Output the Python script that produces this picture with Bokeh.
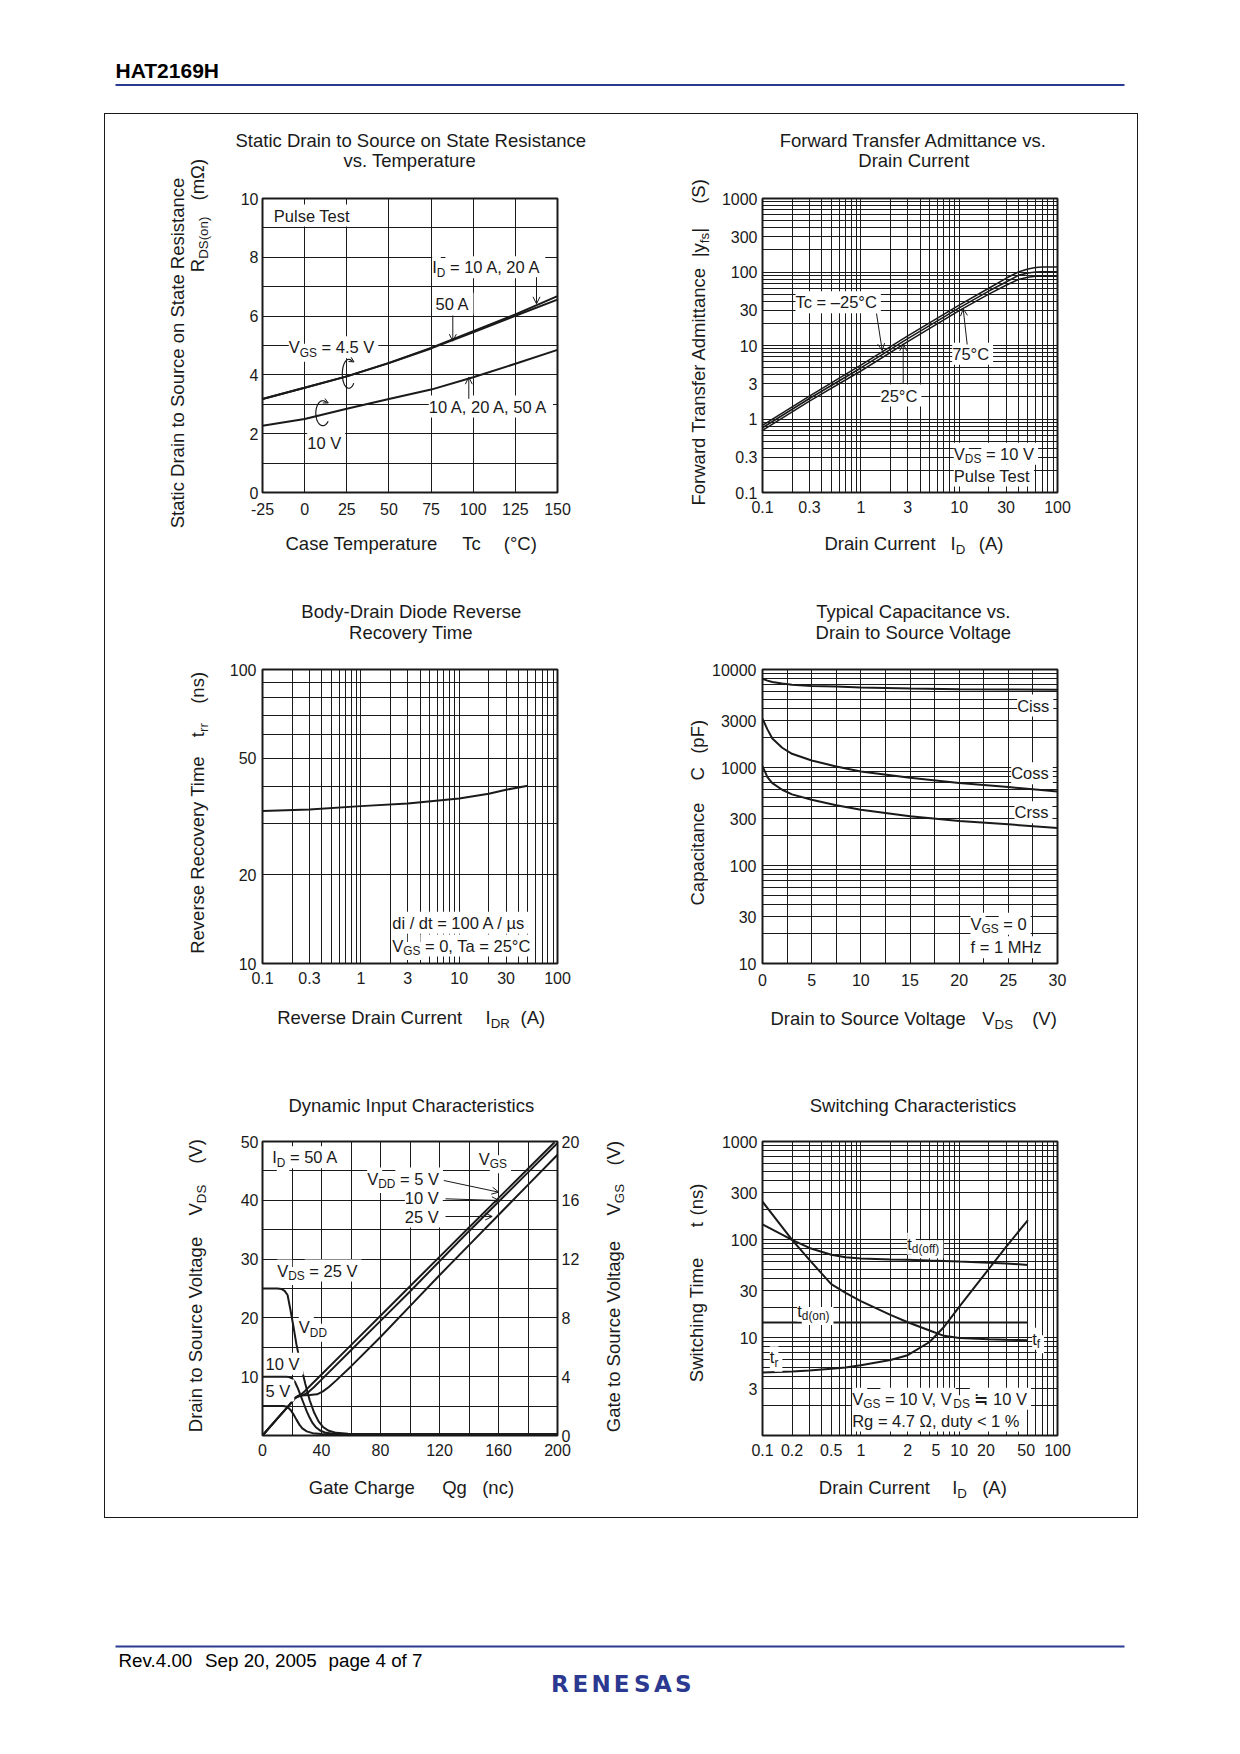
import math
import numpy as np
from bokeh.plotting import figure
from bokeh.models import Range1d, LinearAxis, FixedTicker, Label, Arrow, OpenHead, Spacer
from bokeh.layouts import column, row
from bokeh.embed import file_html
from bokeh.resources import INLINE

FONT = "Liberation Sans"
INK = "#1a1a1a"
BLUE = "#2b3990"
NBSP = "\u00a0"

# ---------------- data: RDS(on) vs temperature ----------------
tc_temp = [-25, 0, 25, 50, 75, 100, 125, 150]
rds_vgs45_id10_20 = [3.18, 3.56, 3.95, 4.41, 4.92, 5.49, 6.06, 6.68]
rds_vgs45_id50 = [3.18, 3.56, 3.95, 4.40, 4.90, 5.45, 6.01, 6.56]
rds_vgs10 = [2.27, 2.50, 2.85, 3.18, 3.50, 3.92, 4.38, 4.85]
tc_ticks = [-25, 0, 25, 50, 75, 100, 125, 150]
rds_ticks = [0, 2, 4, 6, 8, 10]

# ---------------- data: |yfs| vs ID ----------------
yfs_id = [0.1, 0.3, 1, 3, 10, 20, 30, 40, 50, 60, 70, 100]
yfs_tc_m25 = [0.82, 2.05, 5.4, 13.5, 35.4, 60, 82, 100, 110, 115, 117, 117]
yfs_tc_25 = [0.76, 1.9, 4.95, 12.4, 32.5, 55, 73, 90, 97, 100, 101, 101]
yfs_tc_75 = [0.70, 1.75, 4.5, 11.3, 29.8, 50, 66, 79, 85, 87.5, 88, 88]
yfs_x_ticks = [0.1, 0.3, 1, 3, 10, 30, 100]
yfs_y_ticks = [0.1, 0.3, 1, 3, 10, 30, 100, 300, 1000]

# ---------------- data: trr vs IDR ----------------
trr_idr = [0.1, 0.3, 1, 3, 10, 20, 30, 50]
trr_ns = [33.0, 33.4, 34.3, 35.0, 36.4, 37.8, 39.0, 40.2]
trr_x_ticks = [0.1, 0.3, 1, 3, 10, 30, 100]
trr_y_ticks = [10, 20, 50, 100]

# ---------------- data: capacitance vs VDS ----------------
cap_vds = [0, 0.5, 1, 2, 3, 5, 7.5, 10, 15, 20, 25, 30]
cap_ciss = [8050, 7700, 7450, 7200, 7000, 6800, 6700, 6550, 6400, 6300, 6250, 6200]
cap_coss = [3150, 2450, 1980, 1590, 1380, 1180, 1025, 912, 787, 694, 631, 570]
cap_crss = [1035, 798, 693, 593, 532, 469, 411, 371, 318, 285, 263, 242]
cap_x_ticks = [0, 5, 10, 15, 20, 25, 30]
cap_y_ticks = [10, 30, 100, 300, 1000, 3000, 10000]

# ---------------- data: dynamic input ----------------
qg_vds25 = [0, 10, 13, 15, 17, 19, 21, 23, 26, 29, 32, 35, 38, 41, 45, 50, 58, 70, 100, 200]
vds_vdd25 = [25, 25, 24.9, 24.6, 23.9, 21.3, 18.5, 15.5, 11.9, 8.8, 6.0, 3.9, 2.4, 1.45, 0.8, 0.45, 0.3, 0.22, 0.2, 0.2]
qg_vds10 = [0, 10, 16, 18, 20, 22, 24, 26, 28, 30, 32, 34, 36, 39, 43, 48, 55, 70, 100, 200]
vds_vdd10 = [10, 10, 10, 9.95, 9.7, 9.1, 8.0, 6.7, 5.4, 4.1, 3.0, 2.1, 1.45, 0.85, 0.45, 0.28, 0.22, 0.2, 0.2, 0.2]
qg_vds5 = [0, 10, 14, 16, 17, 19, 21, 23, 25, 27, 30, 34, 40, 50, 100, 200]
vds_vdd5 = [5, 5, 5, 4.95, 4.85, 4.35, 3.6, 2.7, 1.85, 1.2, 0.7, 0.4, 0.25, 0.2, 0.2, 0.2]
qg_vgs5 = [0, 10, 18, 22, 24, 26, 29, 34, 40, 60, 80, 100, 120, 140, 160, 180, 198]
vgs_vdd5 = [0, 1.15, 2.05, 2.55, 2.7, 2.78, 3.05, 3.55, 4.15, 6.15, 8.15, 10.15, 12.15, 14.15, 16.15, 18.15, 19.95]
qg_vgs10 = [0, 10, 18, 22, 25, 28, 31, 35, 40, 60, 80, 100, 120, 140, 160, 180, 200]
vgs_vdd10 = [0, 1.15, 2.05, 2.55, 2.72, 2.76, 2.95, 3.3, 3.8, 5.8, 7.8, 9.8, 11.85, 13.9, 15.9, 17.9, 19.9]
qg_vgs25 = [0, 10, 18, 22, 26, 32, 37, 41, 45, 50, 60, 80, 100, 120, 140, 160, 180, 200]
vgs_vdd25 = [0, 1.15, 2.05, 2.55, 2.72, 2.75, 2.8, 3.0, 3.3, 3.75, 4.7, 6.7, 8.8, 10.9, 12.95, 15.0, 17.05, 19.1]
qg_ticks = [0, 40, 80, 120, 160, 200]
vds_ticks = [10, 20, 30, 40, 50]
vgs_ticks = [0, 4, 8, 12, 16, 20]

# ---------------- data: switching ----------------
sw_id = [0.1, 0.2, 0.3, 0.5, 0.7, 1, 2, 3, 5, 7, 10, 20, 30, 50]
sw_td_off = [143, 99, 82, 70, 66, 64, 62.5, 62, 61, 60.5, 59.5, 58, 57, 55]
sw_tf = [243, 99, 62, 35, 28.5, 23.5, 17, 14.3, 11.8, 10.4, 9.9, 9.6, 9.5, 9.4]
sw_tr = [4.4, 4.5, 4.6, 4.8, 4.95, 5.2, 5.9, 6.6, 9.0, 12.8, 20.5, 50, 84, 158]
sw_td_on_id = [0.1, 50]
sw_td_on = [14.2, 14.2]
sw_x_tick_pos = [0.1, 0.2, 0.5, 1, 3, 5.8, 10, 18.7, 48, 100]
sw_x_tick_labels = ["0.1", "0.2", "0.5", "1", "2", "5", "10", "20", "50", "100"]
sw_y_ticks = [3, 10, 30, 100, 300, 1000]

# ---------------- text metrics (Helvetica / Liberation Sans) ----------------
HW = dict(zip("ABCDEFGHIJKLMNOPQRSTUVWXYZ",
              [667, 667, 722, 722, 667, 611, 778, 722, 278, 500, 667, 556, 833, 722, 778, 667, 778, 722,
               667, 611, 722, 667, 944, 667, 667, 611]))
HW.update(zip("abcdefghijklmnopqrstuvwxyz",
              [556, 556, 500, 556, 556, 278, 556, 556, 222, 222, 500, 222, 833, 556, 556, 556, 556, 333,
               500, 278, 556, 500, 722, 500, 500, 500]))
HW.update({d: 556 for d in "0123456789"})
HW.update({" ": 278, NBSP: 278, "(": 333, ")": 333, ",": 278, "-": 333, ".": 278, "/": 278, "=": 584,
           "<": 584, "|": 260, "%": 889, "°": 400, "Ω": 768, "µ": 556, "–": 556, "≒": 584})


def tw(s, size):
    return sum(HW.get(c, 556) for c in s) * size / 1000.0


def keep_spaces(t):
    """leading/trailing blanks would be collapsed in SVG text: make them non-breaking"""
    core = t.strip(" ")
    lead = len(t) - len(t.lstrip(" "))
    trail = len(t) - len(t.rstrip(" "))
    return NBSP * lead + core + NBSP * trail


# page geometry (bokeh's page template has no body margin)
FR = {1: (262, 198, 295, 294), 2: (762, 198, 295, 294),
      3: (262, 669, 295, 294), 4: (762, 669, 295, 294),
      5: (262, 1141, 295, 294), 6: (762, 1141, 295, 294)}
ROWSP = [(114, 466), (580, 470), (1050, 467)]
BOX_X0, BOX_X1 = 105, 1137
MARG = {1: (40, 34, 12, 32), 2: (48, 34, 12, 32), 3: (40, 34, 12, 32),
        4: (54, 34, 12, 32), 5: (30, 34, 12, 32), 6: (46, 34, 12, 32)}
TEXT_FIGS = []


def segments(X, Y, parts, size, align, rot):
    sub = round(size * 0.72, 2)
    segs = [(keep_spaces(t[0]), True) if isinstance(t, tuple) else (keep_spaces(t), False) for t in parts]
    widths = [tw(t, sub if s else size) for t, s in segs]
    total = sum(widths)
    pos = {"left": 0.0, "center": -total / 2.0, "right": -total}[align]
    out = []
    for (t, s), wd in zip(segs, widths):
        fs = sub if s else size
        off = 0.33 * size if s else 0.0
        if rot:
            px, py = X + off, Y - pos
        else:
            px, py = X + pos, Y + off
        out.append((t, fs, px, py, wd))
        pos += wd
    return out


def lkw(t, fs, rot=False, font=FONT, style="normal", color=INK, talign="left"):
    return dict(text=t, text_font=font, text_font_size=f"{fs}px", text_color=color,
                text_font_style=style, text_align=talign, text_baseline="middle",
                angle=(math.pi / 2 if rot else 0.0))


def inner(p, fr, X, Y, parts, size=16.5, align="left"):
    """text inside a plot frame, on a white box that breaks the grid"""
    left, top, w, h = fr
    bottom = top + h
    segs = segments(X, Y, parts, size, align, False)
    for t, fs, px, py, wd in segs:
        kw = lkw(t, fs)
        kw["text_color"] = "white"
        p.add_layout(Label(x=px - left, y=bottom - py, x_units="screen", y_units="screen",
                           background_fill_color="white", padding=2, **kw))
    for t, fs, px, py, wd in segs:
        p.add_layout(Label(x=px - left, y=bottom - py, x_units="screen", y_units="screen", **lkw(t, fs)))


def outer(X, Y, parts, size=18.5, align="left", rot=False, **kw):
    """text outside the frames, drawn into the page-coordinate text panel that holds it"""
    segs = segments(X, Y, parts, size, align, rot)
    bx0 = by0 = 1e9
    bx1 = by1 = -1e9
    for t, fs, px, py, wd in segs:
        hh = 0.55 * fs
        if rot:
            ex = (px - hh, px + hh, py - wd, py)
        else:
            ex = (px, px + wd, py - hh, py + hh)
        bx0, bx1 = min(bx0, ex[0]), max(bx1, ex[1])
        by0, by1 = min(by0, ex[2]), max(by1, ex[3])
    hosts = [f for f, x0, x1, y0, y1 in TEXT_FIGS if x0 <= bx0 and bx1 <= x1 and y0 <= by0 and by1 <= y1]
    if hosts:
        hosts = hosts[:1]
    else:
        hosts = [f for f, x0, x1, y0, y1 in TEXT_FIGS if x0 < bx1 and bx0 < x1 and y0 < by1 and by0 < y1]
    for f in hosts:
        for t, fs, px, py, wd in segs:
            f.add_layout(Label(x=px, y=py, **lkw(t, fs, rot, **kw)))


def arrow(p, fr, X0, Y0, X1, Y1, size=7):
    left, top, w, h = fr
    bottom = top + h
    p.add_layout(Arrow(end=OpenHead(size=size, line_width=1, line_color=INK),
                       x_start=X0 - left, y_start=bottom - Y0, x_end=X1 - left, y_end=bottom - Y1,
                       start_units="screen", end_units="screen", line_width=1, line_color=INK))


def text_fig(x0, x1, y0, y1):
    f = figure(width=int(x1 - x0), height=int(y1 - y0), x_range=Range1d(x0, x1), y_range=Range1d(y1, y0),
               x_axis_type=None, y_axis_type=None, toolbar_location=None, output_backend="svg",
               min_border=0)
    f.outline_line_color = None
    f.background_fill_color = "white"
    f.border_fill_color = "white"
    TEXT_FIGS.append((f, x0, x1, y0, y1))
    return f


def chart_fig(k, x_range, y_range, xt="linear", yt="linear"):
    FL, FT, FW, FH = FR[k]
    a, b, c, d = MARG[k]
    p = figure(width=a + FW + b, height=c + FH + d, x_range=x_range, y_range=y_range,
               x_axis_type=xt, y_axis_type=yt, toolbar_location=None, output_backend="svg",
               min_border_left=a, min_border_right=b, min_border_top=c, min_border_bottom=d)
    p.outline_line_color = INK
    p.outline_line_width = 2
    p.background_fill_color = "white"
    p.border_fill_color = "white"
    return p


def mid_col(k, p, rowi):
    CT, CH = ROWSP[rowi]
    FL, FT, FW, FH = FR[k]
    a, b, c, d = MARG[k]
    tf = text_fig(FL - a, FL + FW + b, CT, FT - c)
    bf = text_fig(FL - a, FL + FW + b, FT + FH + d, CT + CH)
    # the chart is wrapped in its own row so that the text panels keep their own frames
    return column(tf, row(p), bf)


def build_row(rowi, kl, pl, kr, pr):
    CT, CH = ROWSP[rowi]
    FLl, FLr = FR[kl][0], FR[kr][0]
    al, bl = MARG[kl][0], MARG[kl][1]
    ar, br = MARG[kr][0], MARG[kr][1]
    L = text_fig(BOX_X0, FLl - al, CT, CT + CH)
    G = text_fig(FLl + 295 + bl, FLr - ar, CT, CT + CH)
    R = text_fig(FLr + 295 + br, BOX_X1, CT, CT + CH)
    return row(L, mid_col(kl, pl, rowi), G, mid_col(kr, pr, rowi), R)


def style_axis(ax, ticks, standoff, overrides=None):
    ax.ticker = FixedTicker(ticks=ticks)
    ax.axis_line_color = None
    ax.major_tick_line_color = None
    ax.minor_tick_line_color = None
    ax.major_tick_in = 0
    ax.major_tick_out = 0
    ax.minor_tick_in = 0
    ax.minor_tick_out = 0
    ax.major_label_text_font = FONT
    ax.major_label_text_font_size = "16px"
    ax.major_label_text_color = INK
    ax.major_label_standoff = standoff
    if overrides is not None:
        ax.major_label_overrides = overrides


def log_grid(e0, e1):
    majors = [10.0 ** e for e in range(e0, e1 + 1)]
    minors = [k * 10.0 ** e for e in range(e0, e1) for k in range(2, 10)]
    return FixedTicker(ticks=majors, minor_ticks=minors)


def style_grid(g, ticker, minor=False):
    g.ticker = ticker
    g.grid_line_color = INK
    g.grid_line_width = 1
    g.grid_line_alpha = 1
    if minor:
        g.minor_grid_line_color = INK
        g.minor_grid_line_width = 1
        g.minor_grid_line_alpha = 1


def fmt(ticks):
    return {t: f"{t:g}" for t in ticks}


# ---------------- figures & layout ----------------
x1r, y1r = (-25, 150), (0, 10)
p1 = chart_fig(1, Range1d(*x1r), Range1d(*y1r))
p2 = chart_fig(2, Range1d(0.1, 100), Range1d(0.1, 1000), "log", "log")
p3 = chart_fig(3, Range1d(0.1, 100), Range1d(10, 100), "log", "log")
p4 = chart_fig(4, Range1d(0, 30), Range1d(10, 10000), "linear", "log")
p5 = chart_fig(5, Range1d(0, 200), Range1d(0, 50))
p6 = chart_fig(6, Range1d(0.1, 100), Range1d(1, 1000), "log", "log")

hdr = text_fig(0, 1232, 0, 113)
row1 = build_row(0, 1, p1, 2, p2)
row2 = build_row(1, 3, p3, 4, p4)
row3 = build_row(2, 5, p5, 6, p6)
ftr = text_fig(0, 1232, 1518, 1730)

# =============== Chart 1 ===============
F = FR[1]
style_axis(p1.xaxis[0], tc_ticks, 10, fmt(tc_ticks))
style_axis(p1.yaxis[0], rds_ticks, 4)
style_grid(p1.xgrid[0], FixedTicker(ticks=list(range(-25, 151, 25))))
style_grid(p1.ygrid[0], FixedTicker(ticks=list(range(0, 11))))
p1.line(tc_temp, rds_vgs45_id10_20, line_width=2, color=INK)
p1.line(tc_temp, rds_vgs45_id50, line_width=2, color=INK)
p1.line(tc_temp, rds_vgs10, line_width=2, color=INK)

outer(410.3, 140, ["Static Drain to Source on State Resistance"], align="center")
outer(410.3, 160, ["vs. Temperature"], align="center")
outer(176.7, 352.5, ["Static Drain to Source on State Resistance"], align="center", rot=True)
outer(196.7, 271.7, ["R", ("DS(on)",)], rot=True)
outer(196.7, 200.0, ["(mΩ)"], rot=True)
outer(285, 543.3, ["Case Temperature"])
outer(461.7, 543.3, ["Tc"])
outer(503.3, 543.3, ["(°C)"])
inner(p1, F, 273.3, 215, ["Pulse Test"])
inner(p1, F, 431.7, 266.7, ["I", ("D",), " = 10 A, 20 A"])
inner(p1, F, 435, 303.3, ["50 A"])
inner(p1, F, 288.3, 346.7, ["V", ("GS",), " = 4.5 V"])
inner(p1, F, 428.3, 406, ["10 A, 20 A, 50 A"])
inner(p1, F, 306.7, 442.7, ["10 V"])
arrow(p1, F, 536, 276.7, 536, 303.3)
arrow(p1, F, 452.3, 315, 452.3, 340.7)
arrow(p1, F, 468.3, 398.3, 468.3, 376.7)


def p2d(fr, xr, yr, X, Y):
    left, top, w, h = fr
    return (xr[0] + (X - left) / w * (xr[1] - xr[0]), yr[0] + (top + h - Y) / h * (yr[1] - yr[0]))


for (cx, cy, rx, ry) in [(348.3, 373.3, 6.5, 14.5), (322.3, 412.7, 7.0, 12.5)]:
    angs = np.radians(np.linspace(60, 320, 30))
    pts = [p2d(F, x1r, y1r, cx + rx * math.cos(a), cy - ry * math.sin(a)) for a in angs]
    p1.line([q[0] for q in pts], [q[1] for q in pts], line_width=1.2, color=INK)
    a0, a1 = math.radians(75), math.radians(55)
    arrow(p1, F, cx + rx * math.cos(a0), cy - ry * math.sin(a0), cx + rx * math.cos(a1) + 1.5,
          cy - ry * math.sin(a1), size=5)

# =============== Chart 2 ===============
F = FR[2]
style_axis(p2.xaxis[0], yfs_x_ticks, 8, fmt(yfs_x_ticks))
style_axis(p2.yaxis[0], yfs_y_ticks, 5, fmt(yfs_y_ticks))
style_grid(p2.xgrid[0], log_grid(-1, 2), True)
style_grid(p2.ygrid[0], log_grid(-1, 3), True)
for ys in (yfs_tc_m25, yfs_tc_25, yfs_tc_75):
    p2.line(yfs_id, ys, line_width=1.6, color=INK)

outer(913.3, 140, ["Forward Transfer Admittance vs."], align="center")
outer(913.3, 160, ["Drain Current"], align="center")
outer(698.3, 505, ["Forward Transfer Admittance"], rot=True)
outer(698.3, 256.7, ["|y", ("fs",), "|"], rot=True)
outer(698.3, 203.3, ["(S)"], rot=True)
outer(824, 543.3, ["Drain Current"])
outer(950, 543.3, ["I", ("D",)])
outer(978.3, 543.3, ["(A)"])
inner(p2, F, 795, 301.7, ["Tc = –25°C"])
inner(p2, F, 951.7, 353.3, ["75°C"])
inner(p2, F, 880, 395, ["25°C"])
inner(p2, F, 953.3, 453.3, ["V", ("DS",), " = 10 V"])
inner(p2, F, 953.3, 475, ["Pulse Test"])
arrow(p2, F, 876, 313, 881.7, 350)
arrow(p2, F, 902.7, 383, 902.7, 343.3)
arrow(p2, F, 966.7, 344, 962.7, 308.3)

# =============== Chart 3 ===============
F = FR[3]
style_axis(p3.xaxis[0], trr_x_ticks, 8, fmt(trr_x_ticks))
style_axis(p3.yaxis[0], trr_y_ticks, 6, fmt(trr_y_ticks))
style_grid(p3.xgrid[0], log_grid(-1, 2), True)
style_grid(p3.ygrid[0], log_grid(1, 2), True)
p3.line(trr_idr, trr_ns, line_width=2, color=INK)

outer(410.8, 610.7, ["Body-Drain Diode Reverse"], align="center")
outer(410.8, 631.7, ["Recovery Time"], align="center")
outer(196.7, 953.3, ["Reverse Recovery Time"], rot=True)
outer(196.7, 736.7, ["t", ("rr",)], rot=True)
outer(196.7, 703.3, ["(ns)"], rot=True)
outer(276.7, 1017.3, ["Reverse Drain Current"])
outer(485, 1017.3, ["I", ("DR",)])
outer(520, 1017.3, ["(A)"])
inner(p3, F, 391.7, 922.3, ["di / dt = 100 A / µs"])
inner(p3, F, 391.7, 945, ["V", ("GS",), " = 0, Ta = 25°C"])

# =============== Chart 4 ===============
F = FR[4]
style_axis(p4.xaxis[0], cap_x_ticks, 10)
style_axis(p4.yaxis[0], cap_y_ticks, 6, fmt(cap_y_ticks))
style_grid(p4.xgrid[0], FixedTicker(ticks=np.arange(0, 30.01, 2.5).tolist()))
style_grid(p4.ygrid[0], log_grid(1, 4), True)
for ys in (cap_ciss, cap_coss, cap_crss):
    p4.line(cap_vds, ys, line_width=2, color=INK)

outer(913.3, 610.7, ["Typical Capacitance vs."], align="center")
outer(913.3, 632, ["Drain to Source Voltage"], align="center")
outer(697, 905, ["Capacitance"], rot=True)
outer(697, 780, ["C"], rot=True)
outer(697, 753.3, ["(pF)"], rot=True)
outer(770, 1018.3, ["Drain to Source Voltage"])
outer(981.7, 1018.3, ["V", ("DS",)])
outer(1031.7, 1018.3, ["(V)"])
inner(p4, F, 1016.7, 705, ["Ciss"])
inner(p4, F, 1010.7, 772.7, ["Coss"])
inner(p4, F, 1014, 811.7, ["Crss"])
inner(p4, F, 970, 923.3, ["V", ("GS",), " = 0"])
inner(p4, F, 970, 946.7, ["f = 1 MHz"])

# =============== Chart 5 ===============
F = FR[5]
p5.extra_y_ranges = {"vgs": Range1d(0, 20)}
ax_r = LinearAxis(y_range_name="vgs")
p5.add_layout(ax_r, "right")
style_axis(p5.xaxis[0], qg_ticks, 8)
style_axis(p5.left[0], vds_ticks, 4)
style_axis(ax_r, vgs_ticks, 4)
style_grid(p5.xgrid[0], FixedTicker(ticks=list(range(0, 201, 20))))
style_grid(p5.ygrid[0], FixedTicker(ticks=list(range(0, 51, 5))))
p5.line(qg_vds25, vds_vdd25, line_width=2, color=INK)
p5.line(qg_vds10, vds_vdd10, line_width=2, color=INK)
p5.line(qg_vds5, vds_vdd5, line_width=2, color=INK)
p5.line(qg_vgs5, vgs_vdd5, line_width=2, color=INK, y_range_name="vgs")
p5.line(qg_vgs10, vgs_vdd10, line_width=2, color=INK, y_range_name="vgs")
p5.line(qg_vgs25, vgs_vdd25, line_width=2, color=INK, y_range_name="vgs")

outer(410.8, 1105, ["Dynamic Input Characteristics"], align="center")
outer(195, 1431.7, ["Drain to Source Voltage"], rot=True)
outer(195, 1215, ["V", ("DS",)], rot=True)
outer(195, 1163.3, ["(V)"], rot=True)
outer(613, 1431.7, ["Gate to Source Voltage"], rot=True)
outer(613, 1215, ["V", ("GS",)], rot=True)
outer(613, 1165, ["(V)"], rot=True)
outer(308.3, 1486.7, ["Gate Charge"])
outer(441.7, 1486.7, ["Qg"])
outer(481.7, 1486.7, ["(nc)"])
inner(p5, F, 271.7, 1156.7, ["I", ("D",), " = 50 A"])
inner(p5, F, 478.3, 1158.3, ["V", ("GS",)])
inner(p5, F, 366.7, 1178, ["V", ("DD",), " = 5 V"])
inner(p5, F, 438.3, 1197, ["10 V"], align="right")
inner(p5, F, 438.3, 1216, ["25 V"], align="right")
inner(p5, F, 276.7, 1270, ["V", ("DS",), " = 25 V"])
inner(p5, F, 298.3, 1326.7, ["V", ("DD",)])
inner(p5, F, 265, 1363.3, ["10 V"])
inner(p5, F, 265, 1390, ["5 V"])
arrow(p5, F, 443.3, 1180, 498.3, 1191.7)
arrow(p5, F, 445, 1198.3, 498.3, 1200)
arrow(p5, F, 445, 1216, 491.7, 1216)

# =============== Chart 6 ===============
F = FR[6]
style_axis(p6.xaxis[0], sw_x_tick_pos, 8, dict(zip(sw_x_tick_pos, sw_x_tick_labels)))
style_axis(p6.yaxis[0], sw_y_ticks, 5, fmt(sw_y_ticks))
style_grid(p6.xgrid[0], log_grid(-1, 2), True)
style_grid(p6.ygrid[0], log_grid(0, 3), True)
p6.line(sw_id, sw_td_off, line_width=2, color=INK)
p6.line(sw_id, sw_tf, line_width=2, color=INK)
p6.line(sw_id, sw_tr, line_width=2, color=INK)
p6.line(sw_td_on_id, sw_td_on, line_width=2, color=INK)

outer(912.5, 1105, ["Switching Characteristics"], align="center")
outer(696, 1381.7, ["Switching Time"], rot=True)
outer(696, 1226.7, ["t"], rot=True)
outer(696, 1215, ["(ns)"], rot=True)
outer(818.3, 1486.7, ["Drain Current"])
outer(951.7, 1486.7, ["I", ("D",)])
outer(981.7, 1486.7, ["(A)"])
inner(p6, F, 906.7, 1243.3, ["t", ("d(off)",)])
inner(p6, F, 796.7, 1310, ["t", ("d(on)",)])
inner(p6, F, 1031.7, 1338.3, ["t", ("f",)])
inner(p6, F, 769.3, 1356.7, ["t", ("r",)])
inner(p6, F, 851.7, 1398.3, ["V", ("GS",), " = 10 V, V", ("DS",), " ≒ 10 V"])
inner(p6, F, 851.7, 1420, ["Rg = 4.7 Ω, duty < 1 %"])

# =============== header / footer ===============
hdr.segment(x0=[115], y0=[84.5], x1=[1124], y1=[84.5], line_color=BLUE, line_width=2)
outer(115, 70.3, ["HAT2169H"], size=21, style="bold", color="black")
ftr.segment(x0=[115], y0=[1646], x1=[1124], y1=[1646], line_color=BLUE, line_width=2)
outer(118, 1659.5, ["Rev.4.00"], size=18.8, color="black")
outer(204.5, 1659.5, ["Sep 20, 2005"], size=18.8, color="black")
outer(328, 1659.5, ["page 4 of 7"], size=18.8, color="black")
logo = "RENESAS"
for i, ch in enumerate(logo):
    ftr.add_layout(Label(x=549 + 20.6 * (i + 0.5), y=1683, **lkw(ch, 23, font="DejaVu Sans", style="bold",
                                                                  color=BLUE, talign="center")))

box = column(row1, row2, row3, styles={"border": "1px solid #1a1a1a"})
page = column(hdr, row(Spacer(width=104, height=1), box), ftr)

open("out.html", "w").write(file_html(page, INLINE, title="HAT2169H"))
